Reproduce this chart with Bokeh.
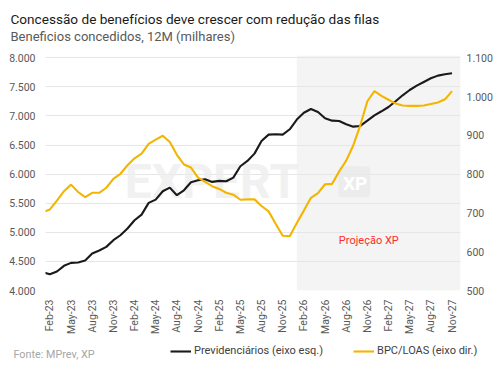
from bokeh.plotting import figure
from bokeh.models import Range1d, LinearAxis, FixedTicker, BoxAnnotation, Label, Legend, LegendItem
from bokeh.layouts import column
from bokeh.embed import file_html
from bokeh.resources import INLINE
import math

months = ["Jan-23", "Feb-23", "Mar-23", "Apr-23", "May-23", "Jun-23", "Jul-23", "Aug-23", "Sep-23", "Oct-23", "Nov-23", "Dec-23",
          "Jan-24", "Feb-24", "Mar-24", "Apr-24", "May-24", "Jun-24", "Jul-24", "Aug-24", "Sep-24", "Oct-24", "Nov-24", "Dec-24",
          "Jan-25", "Feb-25", "Mar-25", "Apr-25", "May-25", "Jun-25", "Jul-25", "Aug-25", "Sep-25", "Oct-25", "Nov-25", "Dec-25",
          "Jan-26", "Feb-26", "Mar-26", "Apr-26", "May-26", "Jun-26", "Jul-26", "Aug-26", "Sep-26", "Oct-26", "Nov-26", "Dec-26",
          "Jan-27", "Feb-27", "Mar-27", "Apr-27", "May-27", "Jun-27", "Jul-27", "Aug-27", "Sep-27", "Oct-27", "Nov-27"]

previdenciarios = [4312, 4280, 4326, 4424, 4475, 4481, 4515, 4635, 4687, 4750, 4865, 4950,
                   5065, 5208, 5305, 5506, 5563, 5706, 5769, 5638, 5723, 5861, 5895, 5912,
                   5867, 5884, 5878, 5941, 6136, 6227, 6353, 6571, 6680, 6686, 6680, 6772,
                   6938, 7055, 7121, 7069, 6961, 6920, 6915, 6857, 6817, 6829, 6920, 7012,
                   7081, 7155, 7253, 7356, 7447, 7522, 7585, 7648, 7694, 7717, 7734]

bpc_loas = [702, 709, 732, 756, 773, 754, 741, 752, 752, 765, 788, 801,
            823, 841, 853, 878, 889, 899, 883, 850, 825, 817, 791, 780,
            769, 762, 752, 747, 734, 735, 735, 718, 704, 672, 641, 640,
            674, 706, 739, 751, 774, 775, 807, 835, 874, 926, 988, 1014,
            1002, 992, 982, 977, 976, 976, 977, 981, 985, 993, 1014]

x_tick_labels = ["Feb-23", "May-23", "Aug-23", "Nov-23", "Feb-24", "May-24", "Aug-24", "Nov-24",
                 "Feb-25", "May-25", "Aug-25", "Nov-25", "Feb-26", "May-26", "Aug-26", "Nov-26",
                 "Feb-27", "May-27", "Aug-27", "Nov-27"]

left_ticks = [4000, 4500, 5000, 5500, 6000, 6500, 7000, 7500, 8000]
left_tick_labels = ["4.000", "4.500", "5.000", "5.500", "6.000", "6.500", "7.000", "7.500", "8.000"]
right_ticks = [500, 600, 700, 800, 900, 1000, 1100]
right_tick_labels = ["500", "600", "700", "800", "900", "1.000", "1.100"]

projection_start = "Jan-26"

title_text = "Concessão de benefícios deve crescer com redução das filas"
subtitle_text = "Beneficios concedidos, 12M (milhares)"
source_text = "Fonte: MPrev, XP"
series_names = ["Previdenciários (eixo esq.)", "BPC/LOAS (eixo dir.)"]
series_colors = ["#1a1a1a", "#f3b500"]

FONT = "Roboto"
W = 502
HEAD_H, MAIN_H, FOOT_H = 48, 292, 31


def blank_fig(h):
    f = figure(width=W, height=h, output_backend="svg", toolbar_location=None,
               x_axis_location=None, y_axis_location=None,
               x_range=Range1d(0, W), y_range=Range1d(h, 0),
               min_border=0, min_border_left=0, min_border_right=0,
               min_border_top=0, min_border_bottom=0,
               background_fill_color="white", border_fill_color="white")
    f.outline_line_color = None
    f.grid.visible = False
    f.frame_align = False
    return f


# ---------- header ----------
head = blank_fig(HEAD_H)
head.add_layout(Label(x=10, y=18, text=title_text, text_font=FONT, text_font_size="13.6px",
                      text_color="#1a1a1a", text_baseline="middle"))
head.add_layout(Label(x=10, y=35.5, text=subtitle_text, text_font=FONT, text_font_size="13px",
                      text_color="#595959", text_baseline="middle"))

# ---------- main chart ----------
x = list(range(len(months)))
x_ticks = [months.index(m) for m in x_tick_labels]

p = figure(width=W, height=MAIN_H, output_backend="svg", toolbar_location=None,
           x_range=Range1d(0.38, 59.2), y_range=Range1d(4000, 8040),
           min_border_left=45, min_border_right=42, min_border_top=7, min_border_bottom=50,
           background_fill_color="white", border_fill_color="white")
p.outline_line_color = None
p.frame_align = False
p.extra_y_ranges = {"r": Range1d(500, 1106)}

p.add_layout(BoxAnnotation(left=months.index(projection_start), fill_color="#f4f4f4",
                           fill_alpha=1.0, line_color=None, level="image"))

xa = p.xaxis[0]
xa.ticker = FixedTicker(ticks=x_ticks)
xa.major_label_overrides = {t: l for t, l in zip(x_ticks, x_tick_labels)}
xa.major_label_orientation = math.pi / 2
xa.major_label_standoff = 9

ya = p.yaxis[0]
ya.ticker = FixedTicker(ticks=left_ticks)
ya.major_label_overrides = {t: l for t, l in zip(left_ticks, left_tick_labels)}
ya.major_label_standoff = 10

ra = LinearAxis(y_range_name="r", ticker=FixedTicker(ticks=right_ticks))
ra.major_label_overrides = {t: l for t, l in zip(right_ticks, right_tick_labels)}
ra.major_label_standoff = 6
p.add_layout(ra, "right")

for ax in (xa, ya, ra):
    ax.axis_line_color = None
    ax.major_tick_line_color = None
    ax.minor_tick_line_color = None
    ax.major_tick_out = 0
    ax.minor_tick_out = 0
    ax.major_label_text_font = FONT
    ax.major_label_text_font_size = "10.5px"
    ax.major_label_text_color = "#595959"

p.xgrid.visible = False
p.ygrid.ticker = FixedTicker(ticks=left_ticks)
p.ygrid.grid_line_color = "#e6e6e6"
p.ygrid.grid_line_width = 1

# watermark
p.add_layout(Label(x=11.6, y=5878, text="EXPERT", text_font=FONT, text_font_style="bold",
                   text_font_size="48px", text_color="#eeeeee", text_alpha=0.8,
                   text_baseline="middle", level="underlay"))
p.add_layout(BoxAnnotation(left=41.9, right=46.4, bottom=5603, top=6136, fill_color="#e8e8e8",
                           fill_alpha=0.7, line_color=None, level="underlay", border_radius=4))
p.add_layout(Label(x=46.0, y=5640, text="XP", text_font=FONT, text_font_style="bold",
                   text_font_size="19px", text_color="white", text_align="right",
                   text_baseline="bottom", level="underlay"))

p.line(x, previdenciarios, line_color=series_colors[0], line_width=2.1)
p.line(x, bpc_loas, line_color=series_colors[1], line_width=2.1, y_range_name="r")

p.add_layout(Label(x=46.2, y=4865, text="Projeção XP", text_font=FONT, text_font_size="11px",
                   text_color="#ff2a2a", text_align="center", text_baseline="middle"))

# ---------- footer: source + legend ----------
foot = blank_fig(FOOT_H)
foot.add_layout(Label(x=13, y=14, text=source_text, text_font=FONT, text_font_size="10.8px",
                      text_color="#a6a6a6", text_baseline="middle"))
# legend keys: off-canvas line stubs carrying the series styles
keys = [foot.line([-20, -10], [0, 0], line_color=c, line_width=2.1) for c in series_colors]
leg = Legend(items=[LegendItem(label=n, renderers=[k]) for n, k in zip(series_names, keys)],
             location=(170, 14), orientation="horizontal", padding=0, margin=0, spacing=30,
             glyph_width=21, glyph_height=12, label_height=12, label_standoff=3,
             label_text_font=FONT, label_text_font_size="11px", label_text_color="#404040",
             border_line_color=None, background_fill_alpha=0)
foot.add_layout(leg)

layout = column(head, p, foot, spacing=0)
open("out.html", "w").write(file_html(layout, INLINE))
